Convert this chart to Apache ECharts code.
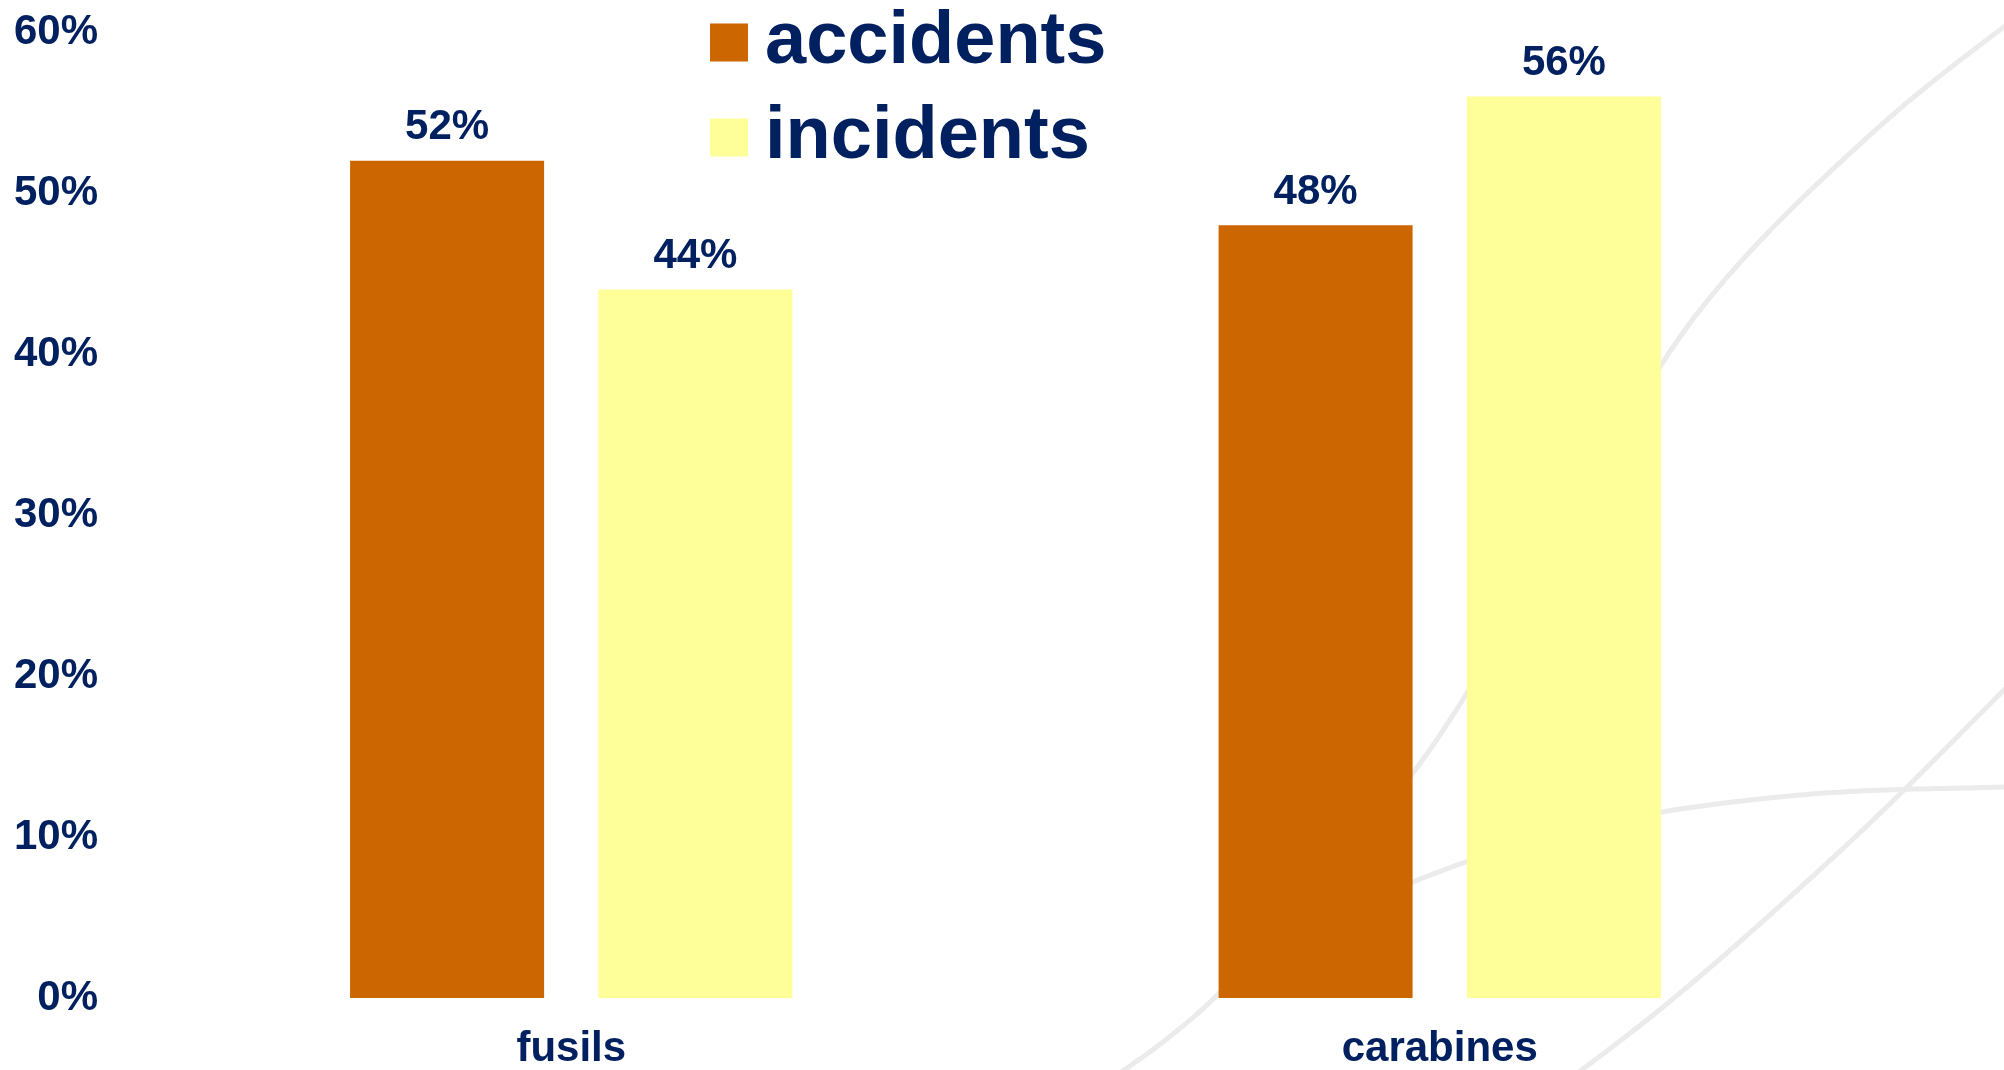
<!DOCTYPE html>
<html><head><meta charset="utf-8">
<script src="https://cdn.jsdelivr.net/npm/echarts@6/dist/echarts.min.js"></script>
<style>html,body{margin:0;padding:0;background:#fff}#c{width:2004px;height:1070px}</style>
</head><body><div id="c"></div>
<script>
// ---- data ----
const categories = ['fusils', 'carabines'];
const seriesNames = ['accidents', 'incidents'];
const accidents = [52, 48];
const incidents = [44, 56];
const yMin = 0, yMax = 60, yStep = 10;

// ---- style ----
const NAVY = '#002060';
const FONT = 'Liberation Sans, Arial, sans-serif';
const COLORS = ['#CC6600', '#FFFF99'];
const SWOOSH = '#EBEBEB';

const chart = echarts.init(document.getElementById('c'), null, {renderer: 'canvas'});

// Catmull-Rom sampling for the decorative background swooshes
function catmull(pts, steps) {
  const out = [];
  for (let i = 0; i < pts.length - 1; i++) {
    const p0 = pts[Math.max(i - 1, 0)], p1 = pts[i], p2 = pts[i + 1], p3 = pts[Math.min(i + 2, pts.length - 1)];
    for (let s = 0; s < steps; s++) {
      const t = s / steps, t2 = t * t, t3 = t2 * t;
      const f = (a, b, c, d) => 0.5 * ((2 * b) + (-a + c) * t + (2 * a - 5 * b + 4 * c - d) * t2 + (-a + 3 * b - 3 * c + d) * t3);
      out.push([f(p0[0], p1[0], p2[0], p3[0]), f(p0[1], p1[1], p2[1], p3[1])]);
    }
  }
  out.push(pts[pts.length - 1]);
  return out;
}
function swoosh(points) {
  return {
    type: 'polyline', z: -10, silent: true,
    shape: {points: catmull(points, 30)},
    style: {stroke: SWOOSH, lineWidth: 5, fill: null, lineJoin: 'round'}
  };
}

const option = {
  backgroundColor: '#ffffff',
  animation: false,
  textStyle: {fontFamily: FONT},
  graphic: [
    swoosh([[1040,1125],[1209,1003],[1413,773],[1560,535],[1700,310],[1880,126],[2060,-15]]),
    swoosh([[1250,968],[1413,882],[1600,824],[1800,795],[2004,787],[2100,785]]),
    swoosh([[1500,1130],[1668,1003],[1852,840],[2004,690],[2100,595]])
  ],
  legend: {
    orient: 'vertical',
    left: 710, top: 5, padding: 0,
    itemWidth: 38, itemHeight: 38,
    itemGap: 20,
    icon: 'rect',
    textStyle: {color: NAVY, fontSize: 74, fontWeight: 'bold', fontFamily: FONT, lineHeight: 75, padding: [0,0,0,12]},
    data: seriesNames
  },
  grid: {left: 137, right: 130, top: 32, bottom: 69.5, containLabel: false},
  xAxis: {
    type: 'category', data: categories,
    axisLine: {show: false}, axisTick: {show: false},
    axisLabel: {color: NAVY, fontSize: 42, fontWeight: 'bold', fontFamily: FONT, margin: 30}
  },
  yAxis: {
    type: 'value', min: yMin, max: yMax, interval: yStep,
    axisLine: {show: false}, axisTick: {show: false}, splitLine: {show: false},
    axisLabel: {color: NAVY, fontSize: 42, fontWeight: 'bold', fontFamily: FONT, margin: 39, formatter: '{value}%'}
  },
  series: [
    {name: seriesNames[0], type: 'bar', data: accidents, barWidth: 194, barGap: '28%',
     itemStyle: {color: COLORS[0]},
     label: {show: true, position: 'top', distance: 12, formatter: '{c}%', color: NAVY, fontSize: 42, fontWeight: 'bold', fontFamily: FONT}},
    {name: seriesNames[1], type: 'bar', data: incidents, barWidth: 194, barGap: '28%',
     itemStyle: {color: COLORS[1]},
     label: {show: true, position: 'top', distance: 12, formatter: '{c}%', color: NAVY, fontSize: 42, fontWeight: 'bold', fontFamily: FONT}}
  ]
};
chart.setOption(option);
</script></body></html>
